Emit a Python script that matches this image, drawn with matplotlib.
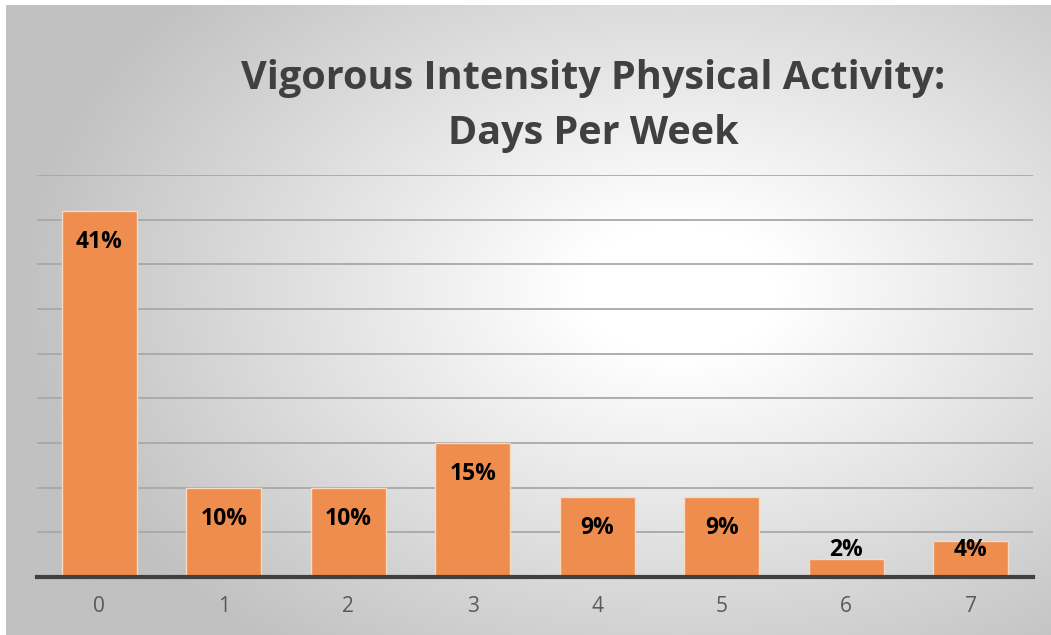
import numpy as np
import matplotlib
matplotlib.use("Agg")
import matplotlib.pyplot as plt

categories = ["0", "1", "2", "3", "4", "5", "6", "7"]
values = [41, 10, 10, 15, 9, 9, 2, 4]
labels = ["41%", "10%", "10%", "15%", "9%", "9%", "2%", "4%"]
title = "Vigorous Intensity Physical Activity:\nDays Per Week"

W, H = 1051, 635
fig = plt.figure(figsize=(W / 100, H / 100), dpi=100)
fig.patch.set_facecolor("white")

# background gradient
bg = fig.add_axes([6 / W, 0, 1 - 6 / W, 1 - 5 / H])
bg.set_axis_off()
xs = np.linspace(6, W, 600)
ys = np.linspace(5, H, 400)
X, Y = np.meshgrid(xs, ys)
r = np.sqrt(((X - 680) / 660) ** 2 + ((Y - 290) / 450) ** 2)
t = np.clip((r - 0.15) / 0.85, 0, 1)
v = (255 - 62 * t) / 255
img = np.dstack([v, v, v])
bg.imshow(img, aspect="auto", extent=[0, 1, 0, 1], origin="upper")
bg.set_xlim(0, 1)
bg.set_ylim(0, 1)

left, right = 37 / W, 1033 / W
bottom, top = (H - 577) / H, (H - 175) / H
ax = fig.add_axes([left, bottom, right - left, top - bottom])
ax.patch.set_alpha(0)
x = np.arange(len(categories))
ax.bar(x, values, width=0.6, color="#EE8D4E", edgecolor="#F8D9C4", linewidth=1.0, zorder=3)
ax.set_xlim(-0.5, len(categories) - 0.5)
ax.set_ylim(0, 45)
ax.set_yticks(np.arange(5, 46, 5))
ax.yaxis.grid(True, color="#A8A8A8", linewidth=1.3, zorder=0)
ax.tick_params(axis="y", left=False, labelleft=False)
for s in ["top", "right", "left"]:
    ax.spines[s].set_visible(False)
ax.spines["bottom"].set_color("#404040")
ax.spines["bottom"].set_linewidth(3)
ax.spines["bottom"].set_zorder(4)
ax.set_xticks(x)
ax.set_xticklabels(categories, fontsize=15, color="#595959", family="Open Sans")
ax.tick_params(axis="x", length=0, pad=14)

for xi, vi, lab in zip(x, values, labels):
    ypos = max(vi - 3.5, 3.0)
    ax.text(xi, ypos, lab, ha="center", va="center", fontsize=16.5, fontweight="bold",
            color="black", family="Open Sans", zorder=5)

fig.text(593 / W, 1 - 106 / H, title, ha="center", va="center", fontsize=28.5,
         fontweight="bold", color="#404040", family="Open Sans", linespacing=1.55)

fig.savefig("out.png", dpi=100)
